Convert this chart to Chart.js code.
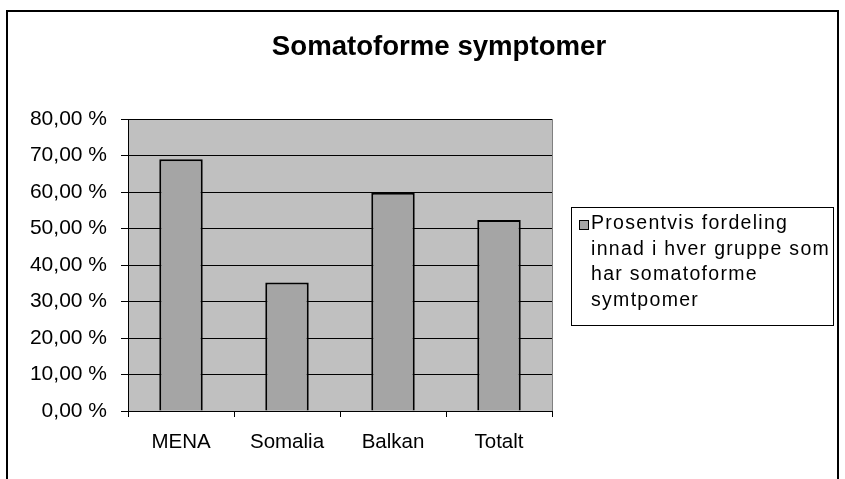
<!DOCTYPE html>
<html lang="no">

<head>
    <meta charset="UTF-8">
    <script src="https://cdn.jsdelivr.net/npm/chart.js"></script>
    <title>Somatoforme symptomer</title>
    <style>
        body { margin: 0; background: #fff; }
        .chart { position: relative; width: 845px; height: 479px; }
    </style>
</head>

<body>
    <div class="chart">
        <canvas id="myChart"></canvas>
    </div>

<script>
    // data
    var grupper = ['MENA', 'Somalia', 'Balkan', 'Totalt']
    var andel = [69.0, 35.2, 59.8, 52.3]
    var serieNavn = 'Prosentvis fordeling innad i hver gruppe som har somatoforme symtpomer'
    var yTickLabels = ['0,00 %', '10,00 %', '20,00 %', '30,00 %', '40,00 %', '50,00 %', '60,00 %', '70,00 %', '80,00 %']
    var tittel = 'Somatoforme symptomer'

    var font = "'Liberation Sans', Arial, sans-serif"
    var barColor = '#a5a5a5'

    // plot area background + outer frame, title and legend box
    const excelLook = {
        id: 'excelLook',
        beforeDraw(chart) {
            const c = chart.ctx, a = chart.chartArea
            c.save()
            c.fillStyle = '#c0c0c0'
            c.fillRect(a.left, a.top, a.right - a.left, a.bottom - a.top)
            c.restore()
        },
        afterDraw(chart) {
            const c = chart.ctx, a = chart.chartArea
            c.save()
            // right edge of plot area
            c.strokeStyle = '#808080'
            c.lineWidth = 1
            c.beginPath()
            c.moveTo(Math.round(a.right) + 0.5, a.top)
            c.lineTo(Math.round(a.right) + 0.5, a.bottom)
            c.stroke()

            // frame round the whole chart
            c.strokeStyle = '#000'
            c.lineWidth = 2
            c.strokeRect(7, 11, 831, 500)

            // title
            c.fillStyle = '#000'
            c.font = "bold 27.6px " + font
            c.textAlign = 'center'
            c.textBaseline = 'alphabetic'
            c.fillText(tittel, 439, 55)

            // legend
            c.fillStyle = '#fff'
            c.fillRect(571, 207, 262, 118)
            c.strokeStyle = '#000'
            c.lineWidth = 1
            c.strokeRect(571.5, 207.5, 262, 118)

            c.fillStyle = chart.data.datasets[0].backgroundColor
            c.fillRect(579.5, 220.5, 9, 9)
            c.strokeRect(579.5, 220.5, 9, 9)

            c.font = "19.5px " + font
            c.textAlign = 'left'
            c.letterSpacing = '1.3px'
            c.fillStyle = '#000'
            var words = chart.data.datasets[0].label.split(' ')
            var lines = [], line = ''
            words.forEach(function (w) {
                var test = line ? line + ' ' + w : w
                if (c.measureText(test).width > 248 && line) {
                    lines.push(line)
                    line = w
                } else {
                    line = test
                }
            })
            lines.push(line)
            lines.forEach(function (l, i) {
                c.fillText(l, 591, 229 + i * 25.7)
            })
            c.restore()
        }
    }

    const ctx = document.getElementById('myChart');

    new Chart(ctx, {
        type: 'bar',
        data: {
            labels: grupper,
            datasets: [{
                label: serieNavn,
                data: andel,
                backgroundColor: barColor,
                borderColor: '#000',
                borderWidth: 2,
                barPercentage: 0.41,
                categoryPercentage: 1
            }]
        },
        options: {
            responsive: true,
            maintainAspectRatio: false,
            animation: false,
            layout: {
                padding: { left: 0, right: 293, top: 119, bottom: 0 }
            },
            plugins: {
                legend: { display: false },
                title: { display: false },
                tooltip: { enabled: false }
            },
            scales: {
                x: {
                    grid: {
                        offset: true,
                        drawOnChartArea: false,
                        drawTicks: true,
                        tickLength: 6,
                        color: '#000'
                    },
                    border: { color: '#000', width: 1 },
                    ticks: {
                        color: '#000',
                        padding: 13,
                        font: { family: font, size: 20.5 }
                    },
                    afterFit: function (s) { s.height = 68 }
                },
                y: {
                    min: 0,
                    max: 80,
                    grid: {
                        color: '#000',
                        drawTicks: true,
                        tickLength: 7
                    },
                    border: { color: '#000', width: 1 },
                    ticks: {
                        stepSize: 10,
                        color: '#000',
                        padding: 14,
                        font: { family: font, size: 21 },
                        callback: function (v, i) { return yTickLabels[i] }
                    },
                    afterFit: function (s) { s.width = 128 }
                }
            }
        },
        plugins: [excelLook]
    });
</script>
</body>

</html>
